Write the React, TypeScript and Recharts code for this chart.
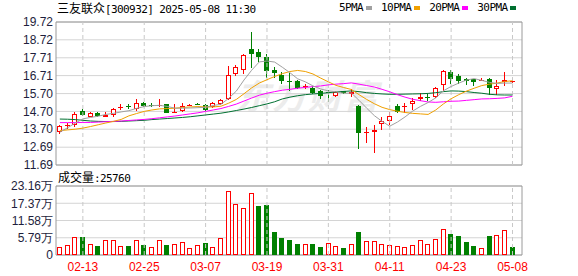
import React from 'react'
import {
  ComposedChart, Bar, Line, XAxis, YAxis, CartesianGrid, ReferenceLine, ReferenceArea
} from 'recharts'

// trading days shown (MM-DD)
const dates = [
  '02-10','02-11','02-12','02-13','02-14','02-17','02-18','02-19','02-20','02-21',
  '02-24','02-25','02-26','02-27','02-28','03-03','03-04','03-05','03-06','03-07',
  '03-10','03-11','03-12','03-13','03-14','03-17','03-18','03-19','03-20','03-21',
  '03-24','03-25','03-26','03-27','03-28','03-31','04-01','04-02','04-03','04-07',
  '04-08','04-09','04-10','04-11','04-14','04-15','04-16','04-17','04-18','04-21',
  '04-22','04-23','04-24','04-25','04-28','04-29','04-30','05-06','05-07','05-08',
]
const tickDates = ['02-13','02-25','03-07','03-19','03-31','04-11','04-23','05-08']

const opens = [
  13.55,13.88,13.94,14.73,14.41,14.63,14.39,14.49,14.88,15.00,
  14.82,15.18,15.08,15.05,15.11,14.62,14.75,15.05,15.13,15.07,
  14.94,15.12,15.39,16.79,17.03,18.22,18.03,17.73,17.04,16.72,
  16.39,16.42,16.08,16.00,15.87,15.78,15.57,15.82,15.68,15.01,
  13.52,13.53,13.98,14.18,15.03,14.95,15.10,15.40,15.52,15.53,
  16.19,16.94,16.66,16.53,16.51,16.43,16.53,15.95,16.34,16.36,
]
const closes = [
  13.88,13.92,14.54,14.52,14.60,14.45,14.52,14.82,14.95,14.94,
  15.16,14.98,15.04,15.08,14.63,14.65,15.01,15.08,15.11,14.78,
  15.16,15.35,16.74,17.17,17.87,17.90,17.73,16.98,16.88,16.42,
  16.33,16.04,16.12,15.76,15.57,15.75,15.78,15.76,15.81,13.51,
  13.56,13.66,14.16,14.45,14.69,14.99,15.29,15.50,15.51,16.00,
  16.98,16.53,16.42,16.40,16.37,16.47,16.00,16.13,16.47,16.40,
]
const highs = [
  13.92,14.04,14.69,14.82,14.69,14.69,14.65,14.91,15.10,15.12,
  15.40,15.22,15.17,15.40,15.13,15.12,15.16,15.13,15.17,15.10,
  15.20,15.40,17.26,17.28,17.90,19.16,18.22,17.92,17.22,16.94,
  16.85,16.48,16.23,16.10,15.91,15.91,15.82,15.86,15.95,15.05,
  13.85,13.94,14.37,14.69,15.12,15.16,15.44,15.72,15.68,16.05,
  17.05,17.04,16.78,16.55,16.53,16.55,16.55,16.47,16.91,16.57,
]
const lows = [
  13.43,13.73,13.85,14.45,14.38,14.37,14.37,14.37,14.78,14.82,
  14.75,14.92,14.94,14.97,14.60,14.60,14.66,15.02,15.07,14.74,
  14.88,15.07,15.33,16.70,16.81,17.13,17.47,16.57,16.60,16.23,
  15.85,15.97,15.93,15.66,15.39,15.25,15.52,15.70,15.51,12.57,
  12.94,12.38,13.66,13.94,14.60,14.60,14.78,15.31,15.31,15.47,
  15.85,16.23,16.23,16.19,16.14,16.40,15.63,15.63,16.10,16.29,
]
// volume, in 万 lots
const volumes = [
  2.8,3.45,6.1,6.1,3.8,3.1,5.1,5.1,3.1,3.1,
  5.1,3.45,2.8,5.1,3.45,3.8,4.3,2.45,3.45,4.1,
  2.8,5.8,21.5,17.1,15.8,20.8,16.5,16.8,7.8,5.6,
  5.1,3.8,3.8,3.8,2.8,4.1,3.1,2.45,3.8,7.8,
  4.8,4.8,3.8,3.45,3.1,2.8,3.45,5.1,3.8,5.5,
  8.8,7.1,6.5,4.45,3.1,2.45,6.5,6.8,8.5,2.576,
]
const ma5 = [
  13.53,13.78,14.04,14.28,14.36,14.43,14.53,14.59,14.67,14.74,
  14.87,14.97,15.02,15.04,14.98,14.88,14.88,14.89,14.91,14.93,
  15.03,15.10,15.43,15.84,16.46,17.01,17.48,17.53,17.47,17.18,
  16.87,16.53,16.36,16.13,15.96,15.85,15.80,15.72,15.73,15.32,
  14.88,14.46,14.14,13.87,14.10,14.39,14.72,14.98,15.20,15.46,
  15.86,16.10,16.29,16.46,16.54,16.44,16.33,16.27,16.29,16.29,
]
const ma10 = [
  13.62,13.66,13.70,13.76,13.85,13.95,14.05,14.14,14.25,14.45,
  14.58,14.70,14.78,14.84,14.86,14.88,14.92,14.95,14.97,14.95,
  14.95,14.99,15.16,15.37,15.69,16.02,16.29,16.48,16.66,16.82,
  16.94,17.00,16.94,16.80,16.57,16.36,16.16,16.04,15.93,15.64,
  15.37,15.13,14.93,14.80,14.71,14.64,14.59,14.56,14.53,14.78,
  15.12,15.41,15.64,15.84,16.00,16.15,16.23,16.29,16.38,16.42,
]
const ma20 = [
  14.07,14.07,14.07,14.08,14.08,14.10,14.12,14.14,14.16,14.19,
  14.22,14.25,14.29,14.34,14.39,14.44,14.50,14.56,14.62,14.70,
  14.78,14.86,14.98,15.11,15.28,15.45,15.61,15.72,15.81,15.89,
  15.94,16.00,16.05,16.09,16.13,16.19,16.23,16.26,16.30,16.23,
  16.15,16.07,15.94,15.80,15.64,15.50,15.38,15.30,15.23,15.21,
  15.24,15.27,15.28,15.32,15.36,15.40,15.41,15.43,15.46,15.55,
]
const ma30 = [
  14.27,14.26,14.24,14.20,14.16,14.14,14.13,14.13,14.14,14.16,
  14.18,14.20,14.24,14.27,14.30,14.33,14.36,14.40,14.45,14.50,
  14.55,14.60,14.67,14.75,14.83,14.92,15.02,15.12,15.24,15.40,
  15.50,15.58,15.64,15.68,15.71,15.75,15.79,15.82,15.85,15.81,
  15.75,15.71,15.68,15.66,15.66,15.67,15.68,15.69,15.71,15.75,
  15.81,15.85,15.84,15.81,15.76,15.72,15.66,15.63,15.62,15.62,
]
const priceTicks = [11.69,12.69,13.70,14.70,15.70,16.71,17.71,18.72,19.72]
const volTicks = [0,5.79,11.58,17.37,23.16]

const RED = '#ff0000'
const GREEN = '#008000'
const TXT = '#1e1e3c'
const XMAX = 60.24

const rows = dates.map((d, i) => ({
  i, date: d,
  open: opens[i], close: closes[i], high: highs[i], low: lows[i],
  range: [lows[i], highs[i]],
  vol: volumes[i],
  volUp: i === 0 || closes[i] >= closes[i - 1],
  ma5: ma5[i], ma10: ma10[i], ma20: ma20[i], ma30: ma30[i],
}))
const tickIdx = tickDates.map(d => dates.indexOf(d))

function Candle(p: any) {
  const { x, y, width, height, payload } = p
  if (x == null || !payload) return null
  const { open, close, high, low } = payload
  const k = high > low ? height / (high - low) : 0
  const cx = Math.floor(x + width / 2) + 0.5
  const yo = y + (high - open) * k
  const yc = y + (high - close) * k
  let t = Math.round(Math.min(yo, yc))
  let b = Math.round(Math.max(yo, yc))
  if (b - t < 1) b = t + 1
  const yh = Math.round(y), yl = Math.round(y + height)
  if (close >= open) {
    return (
      <g>
        <line x1={cx} x2={cx} y1={yh} y2={t} stroke={RED} />
        <line x1={cx} x2={cx} y1={b} y2={yl} stroke={RED} />
        {b - t <= 2
          ? <rect x={cx - 2.5} y={t} width={5} height={b - t} fill={RED} />
          : <rect x={cx - 2} y={t + 0.5} width={4} height={b - t - 1} fill="#fff" stroke={RED} />}
      </g>
    )
  }
  return (
    <g>
      <line x1={cx} x2={cx} y1={yh} y2={yl} stroke={GREEN} />
      <rect x={cx - 2.5} y={t} width={5} height={b - t} fill={GREEN} />
    </g>
  )
}

function VolBar(p: any) {
  const { x, y, width, height, payload } = p
  if (x == null || !payload) return null
  const cx = Math.floor(x + width / 2) + 0.5
  const top = Math.round(y), base = Math.round(y + height)
  if (payload.volUp) {
    return <rect x={cx - 2} y={top + 0.5} width={4} height={Math.max(base - top - 1, 0)} fill="#fff" stroke={RED} />
  }
  return <rect x={cx - 2.5} y={top} width={5} height={base - top} fill={GREEN} />
}

const axisTick = { fill: TXT, fontSize: 12, fontFamily: '"Liberation Sans", Arial, sans-serif' }
const mono = { fontFamily: '"DejaVu Sans Mono", monospace', fontSize: 11, letterSpacing: -0.6 }
const cjk = { fontFamily: '"Noto Sans CJK SC", sans-serif', fontSize: 12 }

const legend = [
  { name: '5PMA', color: '#a0a0a0' },
  { name: '10PMA', color: '#f0a000' },
  { name: '20PMA', color: '#ff00ff' },
  { name: '30PMA', color: '#007030' },
]

export default function App() {
  return (
    <div style={{ position: 'absolute', left: 0, top: 0, width: 578, height: 276, background: '#fff', overflow: 'hidden' }}>
      {/* watermark */}
      <div style={{ position: 'absolute', left: 236, top: 70, fontFamily: '"Noto Sans CJK SC", sans-serif', fontSize: 34, fontWeight: 700, color: '#ececec', letterSpacing: 2, fontStyle: 'italic' }}>东方财富</div>

      <div style={{ position: 'absolute', left: 57, top: 0, height: 16, lineHeight: '16px', color: '#000', whiteSpace: 'nowrap' }}>
        <span style={cjk}>三友联众</span><span style={mono}>[300932] 2025-05-08 11:30</span>
      </div>
      <div style={{ position: 'absolute', left: 339, top: 0, height: 16, lineHeight: '16px', color: '#000', whiteSpace: 'nowrap', display: 'flex', alignItems: 'center' }}>
        {legend.map((l, k) => (
          <span key={l.name} style={{ display: 'flex', alignItems: 'center', marginRight: k < 3 ? 9 : 0 }}>
            <span style={mono}>{l.name}</span>
            <span style={{ display: 'inline-block', width: 6, height: 4, background: l.color, marginLeft: 3 }} />
          </span>
        ))}
      </div>

      <div style={{ position: 'absolute', left: 0, top: 0 }}>
        <ComposedChart width={578} height={177} data={rows} margin={{ top: 22, right: 56, bottom: 12, left: 0 }}>
          <CartesianGrid vertical={false} stroke="#d4d4d4" />
          <XAxis dataKey="i" type="number" domain={[-0.5, XMAX]} ticks={tickIdx} hide allowDataOverflow />
          <YAxis domain={[11.69, 19.72]} ticks={priceTicks} interval={0} width={56} tickSize={0} tickMargin={3}
            axisLine={false} tickLine={false} tick={axisTick} tickFormatter={(v: number) => v.toFixed(2)} allowDataOverflow />
          {tickIdx.map(t => <ReferenceLine key={t} x={t} stroke="#c8c8c8" strokeDasharray="4 3" />)}
          <Bar dataKey="range" barSize={5} shape={(p: any) => <Candle {...p} />} isAnimationActive={false} />
          <Line type="linear" dataKey="ma30" stroke="#007030" strokeWidth={1} dot={false} activeDot={false} isAnimationActive={false} />
          <Line type="linear" dataKey="ma20" stroke="#ff00ff" strokeWidth={1} dot={false} activeDot={false} isAnimationActive={false} />
          <Line type="linear" dataKey="ma10" stroke="#f0a000" strokeWidth={1} dot={false} activeDot={false} isAnimationActive={false} />
          <Line type="linear" dataKey="ma5" stroke="#a0a0a0" strokeWidth={1} dot={false} activeDot={false} isAnimationActive={false} />
          <ReferenceArea x1={-0.5} x2={XMAX} y1={11.69} y2={19.72} fill="none" stroke="#9a9a9a" />
        </ComposedChart>
      </div>

      <div style={{ position: 'absolute', left: 58, top: 169, height: 16, lineHeight: '16px', color: '#000', whiteSpace: 'nowrap' }}>
        <span style={cjk}>成交量</span><span style={mono}>:25760</span>
      </div>

      <div style={{ position: 'absolute', left: 0, top: 170 }}>
        <ComposedChart width={578} height={106} data={rows} margin={{ top: 16, right: 56, bottom: 0, left: 0 }}>
          <CartesianGrid vertical={false} stroke="#d4d4d4" />
          <XAxis dataKey="i" type="number" domain={[-0.5, XMAX]} ticks={tickIdx} height={21}
            tickFormatter={(v: number) => dates[v] ?? ''} axisLine={false} tickLine={false} tickSize={6} tickMargin={1}
            tick={{ fill: RED, fontSize: 12, fontFamily: '"Liberation Sans", Arial, sans-serif' }} allowDataOverflow interval={0} />
          <YAxis domain={[0, 23.16]} ticks={volTicks} interval={0} width={56} tickSize={0} tickMargin={3}
            axisLine={false} tickLine={false} tick={axisTick}
            tickFormatter={(v: number) => (v === 0 ? '0' : v.toFixed(2) + '万')} allowDataOverflow />
          {tickIdx.map(t => <ReferenceLine key={t} x={t} stroke="#c8c8c8" strokeDasharray="4 3" />)}
          <Bar dataKey="vol" barSize={5} shape={(p: any) => <VolBar {...p} />} isAnimationActive={false} />
          <ReferenceArea x1={-0.5} x2={XMAX} y1={0} y2={23.16} fill="none" stroke="#9a9a9a" />
        </ComposedChart>
      </div>
    </div>
  )
}
